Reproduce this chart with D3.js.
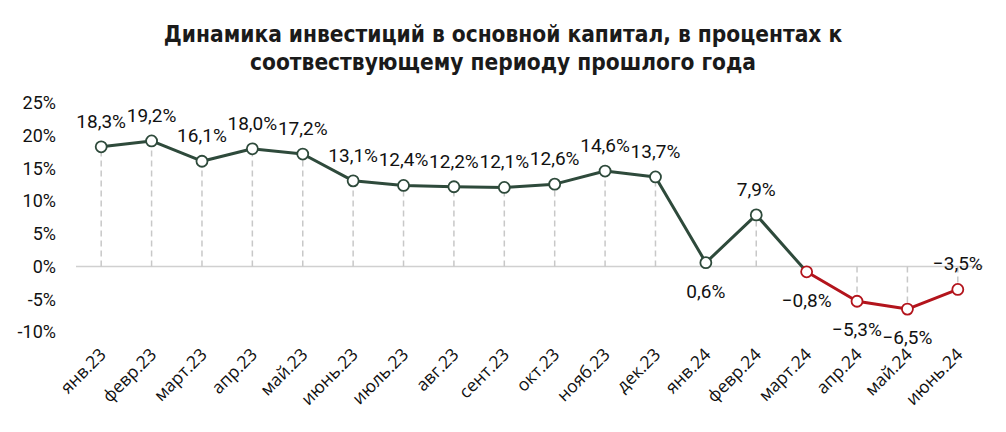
<!DOCTYPE html>
<html><head><meta charset="utf-8">
<script src="https://cdn.jsdelivr.net/npm/d3@7"></script>
<style>
body{margin:0;background:#fff;}
svg{display:block;}
</style></head>
<body>
<svg id="chart" width="1006" height="432"></svg>
<script>
const categories = ["янв.23","февр.23","март.23","апр.23","май.23","июнь.23","июль.23","авг.23","сент.23","окт.23","нояб.23","дек.23","янв.24","февр.24","март.24","апр.24","май.24","июнь.24"];
const values = [18.3,19.2,16.1,18.0,17.2,13.1,12.4,12.2,12.1,12.6,14.6,13.7,0.6,7.9,-0.8,-5.3,-6.5,-3.5];
const yTicks = [-10,-5,0,5,10,15,20,25];
const titleLines = ["Динамика инвестиций в основной капитал, в процентах к","соотвествующему периоду прошлого года"];
const redFrom = "март.24";

const svg = d3.select("#chart");
const green = "#2e4a3b", red = "#b3141c";
const numFont = "Roboto, 'DejaVu Sans', sans-serif";

const x = d3.scaleBand().domain(categories).range([76, 983]);
const y = d3.scaleLinear().domain([-10, 25]).range([332, 103]);
const cx = d => x(d) + x.bandwidth() / 2;
const redIdx = categories.indexOf(redFrom);
const data = categories.map((c, i) => ({c, v: values[i], i}));

// title
svg.append("g").selectAll("text").data(titleLines).join("text")
  .attr("x", 503).attr("y", (d, i) => 42 + i * 28)
  .attr("text-anchor", "middle")
  .style("font-family", "'DejaVu Sans Condensed','DejaVu Sans',sans-serif")
  .style("font-stretch", "condensed")
  .style("font-weight", "bold").style("font-size", "22.5px").style("fill", "#1a1a1a")
  .text(d => d);

// y axis labels
const yAxis = d3.axisLeft(y).tickValues(yTicks).tickSize(0).tickPadding(0)
  .tickFormat(d => (d < 0 ? "-" + Math.abs(d) : d) + "%");
const ya = svg.append("g").attr("transform", "translate(56,0)").call(yAxis);
ya.select(".domain").remove();
ya.selectAll("text").style("font-family", numFont).style("font-size", "18px").style("fill", "#111");

// zero line
svg.append("line").attr("x1", 76).attr("x2", 983).attr("y1", y(0)).attr("y2", y(0))
  .attr("stroke", "#d0d0d0").attr("stroke-width", 1.5);

// drop lines
svg.append("g").selectAll("line").data(data).join("line")
  .attr("x1", d => cx(d.c)).attr("x2", d => cx(d.c))
  .attr("y1", y(0)).attr("y2", d => y(d.v))
  .attr("stroke", "#c8c8c8").attr("stroke-width", 1.5).attr("stroke-dasharray", "6,4");

// x axis labels
const xAxis = d3.axisBottom(x).tickSize(0).tickPadding(0);
const xa = svg.append("g").attr("transform", `translate(0,${y(0)})`).call(xAxis);
xa.select(".domain").remove();
xa.selectAll("text")
  .attr("text-anchor", "end").attr("dy", 0).attr("y", 0)
  .attr("transform", "translate(6,89) rotate(-45)")
  .style("font-family", "'Open Sans', sans-serif").style("font-size", "17.5px").style("fill", "#111");

// line segments
const line = d3.line().x(d => cx(d.c)).y(d => y(d.v));
svg.append("path").datum(data.slice(0, redIdx + 1)).attr("d", line)
  .attr("fill", "none").attr("stroke", green).attr("stroke-width", 3).attr("stroke-linejoin", "round");
svg.append("path").datum(data.slice(redIdx)).attr("d", line)
  .attr("fill", "none").attr("stroke", red).attr("stroke-width", 3).attr("stroke-linejoin", "round");

// markers
svg.append("g").selectAll("circle").data(data).join("circle")
  .attr("cx", d => cx(d.c)).attr("cy", d => y(d.v)).attr("r", 5.5)
  .attr("fill", "#fff").attr("stroke", d => d.i >= redIdx ? red : green).attr("stroke-width", 1.8);

// labels
const below = new Set(["янв.24","март.24","апр.24","май.24"]);
svg.append("g").selectAll("text").data(data).join("text")
  .attr("x", d => cx(d.c))
  .attr("y", d => below.has(d.c) ? y(d.v) + 35 : y(d.v) - 19)
  .attr("text-anchor", "middle")
  .style("font-family", numFont).style("font-size", "19px").style("fill", "#111")
  .text(d => (d.v < 0 ? "−" : "") + Math.abs(d.v).toFixed(1).replace(".", ",") + "%");
</script>
</body></html>
